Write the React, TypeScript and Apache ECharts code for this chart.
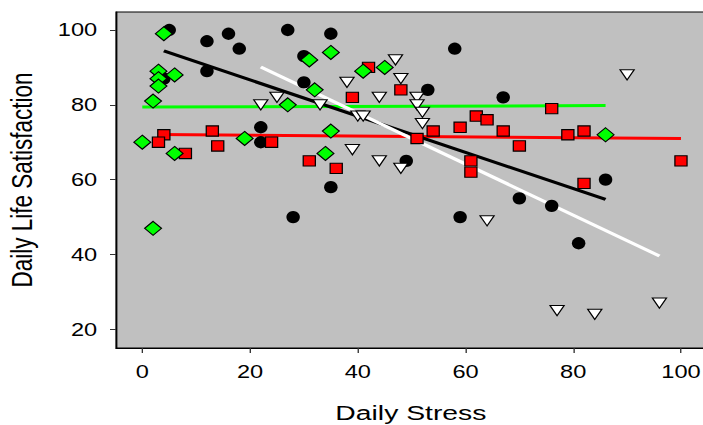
import React, { useEffect, useRef } from "react";
import * as echarts from "echarts";

// ---- data ----
const xTicks = [0, 20, 40, 60, 80, 100];
const yTicks = [20, 40, 60, 80, 100];

const blackPoints = [
  [5, 100], [12, 97], [16, 99], [18, 95], [27, 100], [12, 89], [30, 93], [30, 86],
  [4, 87], [22, 74], [22, 70], [35, 99], [58, 95], [53, 84], [67, 82], [49, 65],
  [35, 58], [59, 50], [28, 50], [86, 60], [70, 55], [76, 53], [81, 43],
];

const redPoints = [
  [4, 72], [3, 70], [13, 73], [14, 69], [8, 67], [24, 70], [31, 65], [42, 90],
  [48, 84], [39, 82], [51, 71], [54, 73], [59, 74], [62, 77], [64, 76], [67, 73],
  [61, 65], [61, 62], [36, 63], [76, 79], [70, 69], [79, 72], [82, 73], [100, 65],
  [82, 59],
];

const whitePoints = [
  [22, 80], [25, 82], [47, 92], [38, 86], [48, 87], [44, 82], [51, 82], [51, 80],
  [52, 78], [52, 75], [33, 80], [40, 77], [41, 77], [39, 68], [44, 65], [48, 63],
  [64, 49], [90, 88], [77, 25], [84, 24], [96, 27],
];

const greenPoints = [
  [4, 99], [3, 89], [6, 88], [3, 87], [3, 85], [2, 81], [0, 70], [6, 67], [19, 71],
  [2, 47], [27, 80], [31, 92], [32, 84], [35, 94], [41, 89], [45, 90], [35, 73],
  [34, 67], [86, 72],
];

const blackFit = [[4, 94.4], [86, 54.7]];
const redFit = [[3, 72.1], [100, 71.0]];
const whiteFit = [[22, 90.1], [96, 39.6]];
const greenFit = [[0, 79.4], [86, 79.8]];

// ---- layout ----
const OUT_W = 703;
const OUT_H = 425;
const INNER_W = 521;
const STRETCH = OUT_W / INNER_W;
const FONT = '"Liberation Sans", Arial, Helvetica, sans-serif';

function fitLine(data: number[][], color: string) {
  return {
    type: "line",
    data,
    showSymbol: false,
    symbol: "none",
    silent: true,
    z: 1,
    lineStyle: { color, width: 3 },
    emphasis: { disabled: true },
  };
}

function scatter(
  data: number[][],
  symbol: string,
  size: number[],
  color: string,
  border: number,
  z: number,
  rotate = 0
) {
  return {
    type: "scatter",
    data,
    symbol,
    symbolSize: size,
    symbolRotate: rotate,
    silent: true,
    z,
    itemStyle: { color, borderColor: "#000", borderWidth: border, opacity: 1 },
    emphasis: { disabled: true },
  };
}

export default function App() {
  const ref = useRef<HTMLDivElement>(null);

  useEffect(() => {
    if (!ref.current) return;
    const chart = echarts.init(ref.current, undefined, { renderer: "svg" });
    chart.setOption({
      animation: false,
      backgroundColor: "#ffffff",
      grid: {
        left: 86,
        right: -2,
        top: 12,
        bottom: 77,
        show: true,
        backgroundColor: "#C0C0C0",
        borderColor: "#000",
        borderWidth: 1,
        containLabel: false,
        outerBoundsMode: "none",
      },
      xAxis: {
        type: "value",
        min: -4.875,
        max: 104.59,
        name: "Daily Stress",
        nameLocation: "middle",
        nameGap: 54,
        nameTextStyle: { fontFamily: FONT, fontSize: 21, color: "#000" },
        axisLine: { show: true, onZero: false, lineStyle: { color: "#000", width: 1 } },
        axisTick: { show: true, length: 5, customValues: xTicks, lineStyle: { color: "#333" } },
        axisLabel: { customValues: xTicks, margin: 15, fontFamily: FONT, fontSize: 17.5, color: "#000" },
        splitLine: { show: false },
      },
      yAxis: {
        type: "value",
        min: 15.0,
        max: 104.81,
        name: "Daily Life Satisfaction",
        nameLocation: "middle",
        nameRotate: 90,
        nameGap: 58,
        nameTextStyle: { fontFamily: FONT, fontSize: 22.5, color: "#000" },
        axisLine: { show: true, onZero: false, lineStyle: { color: "#000", width: 1 } },
        axisTick: { show: true, length: 4.5, customValues: yTicks, lineStyle: { color: "#333" } },
        axisLabel: { customValues: yTicks, margin: 14, fontFamily: FONT, fontSize: 17.5, color: "#000" },
        splitLine: { show: false },
      },
      series: [
        fitLine(greenFit, "#00FF00"),
        fitLine(redFit, "#FF0000"),
        fitLine(blackFit, "#000000"),
        fitLine(whiteFit, "#FFFFFF"),
        scatter(blackPoints, "circle", [10, 12.3], "#000000", 0, 2),
        scatter(redPoints, "rect", [9, 10.3], "#FF0000", 1, 3),
        scatter(whitePoints, "triangle", [10.5, 10.2], "#FFFFFF", 1, 4, 180),
        scatter(greenPoints, "diamond", [12.5, 14], "#00FF00", 1, 5),
      ],
    });
    return () => chart.dispose();
  }, []);

  return (
    <div
      style={{
        position: "absolute",
        left: 0,
        top: 0,
        width: OUT_W,
        height: OUT_H,
        overflow: "hidden",
        background: "#fff",
      }}
    >
      <div
        ref={ref}
        style={{
          width: INNER_W,
          height: OUT_H,
          transform: `scaleX(${STRETCH})`,
          transformOrigin: "0 0",
        }}
      />
    </div>
  );
}
